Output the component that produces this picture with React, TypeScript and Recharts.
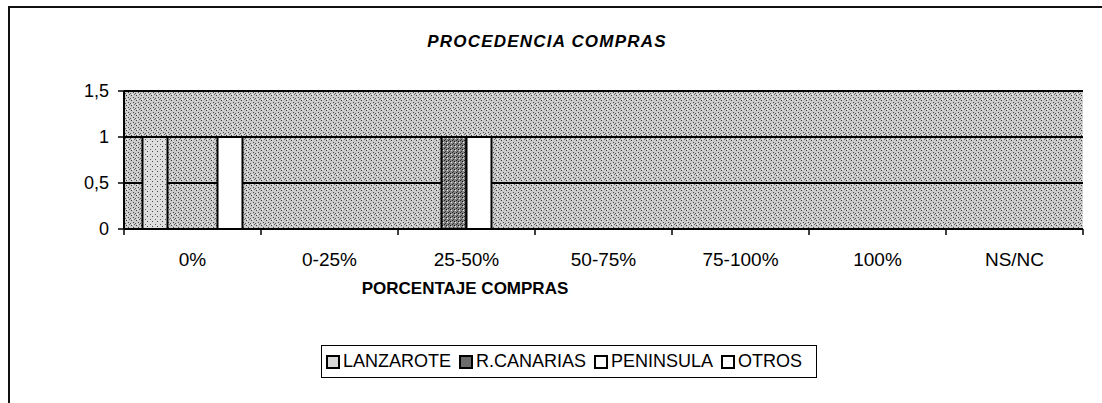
import { BarChart, Bar, XAxis, YAxis, CartesianGrid } from "recharts";

const CATEGORIES = ["0%", "0-25%", "25-50%", "50-75%", "75-100%", "100%", "NS/NC"];
const LANZAROTE = [1, 0, 0, 0, 0, 0, 0];
const R_CANARIAS = [0, 0, 1, 0, 0, 0, 0];
const PENINSULA = [0, 0, 1, 0, 0, 0, 0];
const OTROS = [1, 0, 0, 0, 0, 0, 0];
const Y_TICKS = [0, 0.5, 1, 1.5];

const SERIES = [
  { key: "lanzarote", name: "LANZAROTE", fill: "url(#lzStip)", swatch: "#d8d8d8" },
  { key: "rcanarias", name: "R.CANARIAS", fill: "url(#rcStip)", swatch: "#6b6b6b" },
  { key: "peninsula", name: "PENINSULA", fill: "#ffffff", swatch: "#ffffff" },
  { key: "otros", name: "OTROS", fill: "#ffffff", swatch: "#ffffff" },
];

const data = CATEGORIES.map((c, i) => ({
  cat: c,
  lanzarote: LANZAROTE[i],
  rcanarias: R_CANARIAS[i],
  peninsula: PENINSULA[i],
  otros: OTROS[i],
}));

const W = 1102;
const H = 403;
const M = { top: 91, right: 19, left: 64, bottom: 144 };
const Y_W = 60;
const BAND = (W - M.left - Y_W - M.right) / CATEGORIES.length;
const FONT = "'Liberation Sans', Arial, sans-serif";

function XTick(props: any) {
  const { x, y, payload, index } = props;
  const half = BAND / 2;
  return (
    <g>
      <line x1={x - half} x2={x - half} y1={y} y2={y + 6} stroke="#000" strokeWidth={1.5} />
      {index === CATEGORIES.length - 1 && (
        <line x1={x + half} x2={x + half} y1={y} y2={y + 6} stroke="#000" strokeWidth={1.5} />
      )}
      <text x={x} y={y + 37} textAnchor="middle" fontSize={19} fontFamily={FONT} fill="#000">
        {payload.value}
      </text>
    </g>
  );
}

export default function App() {
  return (
    <div
      style={{
        position: "absolute",
        left: 0,
        top: 0,
        width: W,
        height: H,
        background: "#fff",
        fontFamily: FONT,
        overflow: "hidden",
      }}
    >
      {/* outer frame, only top and left edges show in the scan */}
      <div
        style={{
          position: "absolute",
          left: 8,
          top: 6,
          right: 0,
          bottom: 0,
          borderTop: "2px solid #111",
          borderLeft: "2px solid #111",
        }}
      />
      <div
        style={{
          position: "absolute",
          left: 0,
          width: 1094,
          top: 32,
          textAlign: "center",
          fontWeight: "bold",
          fontStyle: "italic",
          fontSize: 17,
          letterSpacing: 1.2,
          color: "#000",
        }}
      >
        PROCEDENCIA COMPRAS
      </div>
      <BarChart
        width={W}
        height={H}
        data={data}
        margin={M}
        barCategoryGap="13.5%"
        barGap={0}
        style={{ position: "absolute", left: 0, top: 0 }}
      >
        <defs>
          <pattern id="bgStip" width="5" height="5" patternUnits="userSpaceOnUse">
            <rect width="5" height="5" fill="#cbcbcb" />
            <rect x="1" y="0" width="1" height="1" fill="#3a3a3a" />
            <rect x="3" y="2" width="1" height="1" fill="#4a4a4a" />
            <rect x="0" y="3" width="1" height="1" fill="#5a5a5a" />
            <rect x="4" y="4" width="1" height="1" fill="#6a6a6a" />
            <rect x="2" y="4" width="1" height="1" fill="#f4f4f4" />
          </pattern>
          <pattern id="lzStip" width="5" height="5" patternUnits="userSpaceOnUse">
            <rect width="5" height="5" fill="#dedede" />
            <rect x="2" y="1" width="1" height="1" fill="#444" />
            <rect x="0" y="4" width="1" height="1" fill="#666" />
          </pattern>
          <pattern id="rcStip" width="4" height="4" patternUnits="userSpaceOnUse">
            <rect width="4" height="4" fill="#858585" />
            <rect x="0" y="0" width="1" height="1" fill="#222" />
            <rect x="2" y="1" width="1" height="1" fill="#111" />
            <rect x="1" y="3" width="1" height="1" fill="#333" />
            <rect x="3" y="2" width="1" height="1" fill="#eee" />
          </pattern>
        </defs>
        <CartesianGrid
          vertical={false}
          stroke="#000"
          strokeWidth={2}
          fill="url(#bgStip)"
          fillOpacity={1}
          yAxisId="l"
        />
        <XAxis
          dataKey="cat"
          tick={<XTick />}
          tickLine={false}
          tickSize={0}
          tickMargin={0}
          height={30}
          interval={0}
          axisLine={{ stroke: "#000", strokeWidth: 2 }}
        />
        <YAxis
          yAxisId="l"
          width={Y_W}
          domain={[0, 1.5]}
          ticks={Y_TICKS}
          tickFormatter={(v) => String(v).replace(".", ",")}
          tick={{ fontSize: 18, fill: "#000", fontFamily: FONT }}
          tickLine={{ stroke: "#000", strokeWidth: 1.5 }}
          tickSize={6}
          tickMargin={9}
          axisLine={{ stroke: "#000", strokeWidth: 2 }}
        />
        <YAxis
          yAxisId="r"
          orientation="right"
          width={0}
          domain={[0, 1.5]}
          tick={false}
          tickLine={false}
          axisLine={{ stroke: "#000", strokeWidth: 2 }}
        />
        {SERIES.map((s) => (
          <Bar
            key={s.key}
            yAxisId="l"
            dataKey={s.key}
            name={s.name}
            fill={s.fill}
            stroke="#000"
            strokeWidth={2}
            isAnimationActive={false}
          />
        ))}
      </BarChart>
      <div
        style={{
          position: "absolute",
          left: 0,
          width: 930,
          top: 279,
          textAlign: "center",
          fontWeight: "bold",
          fontSize: 17,
          color: "#000",
        }}
      >
        PORCENTAJE COMPRAS
      </div>
      <div
        style={{
          position: "absolute",
          left: 321,
          top: 345,
          height: 31,
          border: "1.5px solid #000",
          display: "flex",
          alignItems: "center",
          padding: "0 6px 0 4px",
          fontSize: 18,
          color: "#000",
          whiteSpace: "nowrap",
        }}
      >
        {SERIES.map((s) => (
          <span key={s.key} style={{ display: "flex", alignItems: "center", marginRight: 8 }}>
            <span
              style={{
                width: 10,
                height: 10,
                border: "2px solid #000",
                background: s.swatch,
                marginRight: 3,
                display: "inline-block",
              }}
            />
            {s.name}
          </span>
        ))}
      </div>
    </div>
  );
}
